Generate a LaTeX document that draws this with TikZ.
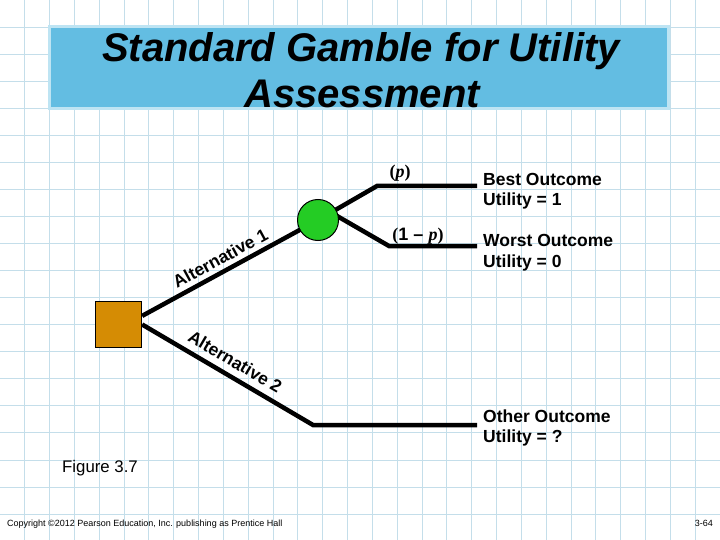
\documentclass[tikz,border=0pt]{standalone}
\usepackage{fontspec}
\setmainfont{Liberation Sans}
\newfontfamily\tnr{Liberation Serif}
\definecolor{gridc}{RGB}{196,222,234}
\definecolor{titlefill}{RGB}{99,189,226}
\definecolor{titleedge}{RGB}{190,228,243}
\definecolor{decsq}{RGB}{213,140,4}
\definecolor{chc}{RGB}{36,204,36}
\pgfdeclarelayer{gridlayer}
\pgfdeclarelayer{linelayer}
\pgfsetlayers{gridlayer,linelayer,main}
\begin{document}
\begin{tikzpicture}[x=1pt,y=-1pt,
  branch/.style={line width=4.5pt, black},
  titletext/.style={inner sep=0pt, font=\fontsize{40}{46}\selectfont\bfseries\itshape},
  outlbl/.style={inner sep=0pt, anchor=base west, font=\fontsize{17.5}{20}\selectfont\bfseries},
  altlbl/.style={inner sep=0pt, sloped, font=\fontsize{17.5}{20}\selectfont\bfseries},
  problbl/.style={inner sep=0pt, font=\fontsize{18}{20}\selectfont\bfseries}
]
\useasboundingbox (0,0) rectangle (720,540);
\begin{pgfonlayer}{gridlayer}
  \fill[white] (0,0) rectangle (720,540);
  \foreach \i in {1,...,28} \draw[gridc, line width=1pt] (\i*24.83,0) -- (\i*24.83,540);
  \foreach \j in {1,...,19} \draw[gridc, line width=1pt] (0,\j*27.06) -- (720,\j*27.06);
\end{pgfonlayer}

% title
\node[draw=titleedge, line width=3pt, fill=titlefill, minimum width=619pt, minimum height=82pt, inner sep=0pt] (titlebox) at (359,67.5) {};
\node[titletext, anchor=base] (t1) at (361,62) {Standard Gamble for Utility};
\node[titletext, anchor=base] (t2) at (362,108) {Assessment};

% tree nodes
\node[draw, line width=1.3pt, fill=decsq, minimum size=46pt, inner sep=0pt] (sq) at (118.5,324.5) {};
\node[circle, draw, line width=1pt, fill=chc, minimum size=41pt, inner sep=0pt] (ch) at (318,220) {};

\coordinate (cj) at (331,212.5);
\coordinate (pbend) at (377,186);
\coordinate (pend) at (477,186);
\coordinate (qbend) at (389,246);
\coordinate (qend) at (477,246);
\coordinate (obend) at (313,425);
\coordinate (oend) at (477,425);

\begin{pgfonlayer}{linelayer}
  \draw[branch] (sq.20) -- node[altlbl, pos=0.48, above=4.5pt] (alt1) {Alternative 1} (ch.center);
  \draw[branch] (sq.east) -- node[altlbl, pos=0.50, above=6.5pt] (alt2) {Alternative 2} (obend) -- (oend);
  \draw[branch] (cj) -- (pbend) -- (pend);
  \draw[branch] (cj) -- (qbend) -- (qend);
\end{pgfonlayer}

% probabilities
\node[problbl] (pl) at (400,173) {{\tnr(\textit{p})}};
\node[problbl] (ql) at (418,236) {{\tnr(}1 – {\tnr\textit{p})}};

% outcomes
\node[outlbl] (best1) at (483,186) {Best Outcome};
\node[outlbl] (best2) at (483,206) {Utility = 1};
\node[outlbl] (worst1) at (483,247) {Worst Outcome};
\node[outlbl] (worst2) at (483,267) {Utility = 0};
\node[outlbl] (other1) at (483,422) {Other Outcome};
\node[outlbl] (other2) at (483,442) {Utility = ?};

% captions
\node[inner sep=0pt, anchor=base west, font=\fontsize{16.8}{18}\selectfont] (fig) at (62,472) {Figure 3.7};
\node[inner sep=0pt, anchor=base west, font=\fontsize{9}{10}\selectfont] (copy) at (7,526) {Copyright ©2012 Pearson Education, Inc. publishing as Prentice Hall};
\node[inner sep=0pt, anchor=base east, font=\fontsize{9}{10}\selectfont] (pg) at (713,526) {3-64};
\end{tikzpicture}
\end{document}
